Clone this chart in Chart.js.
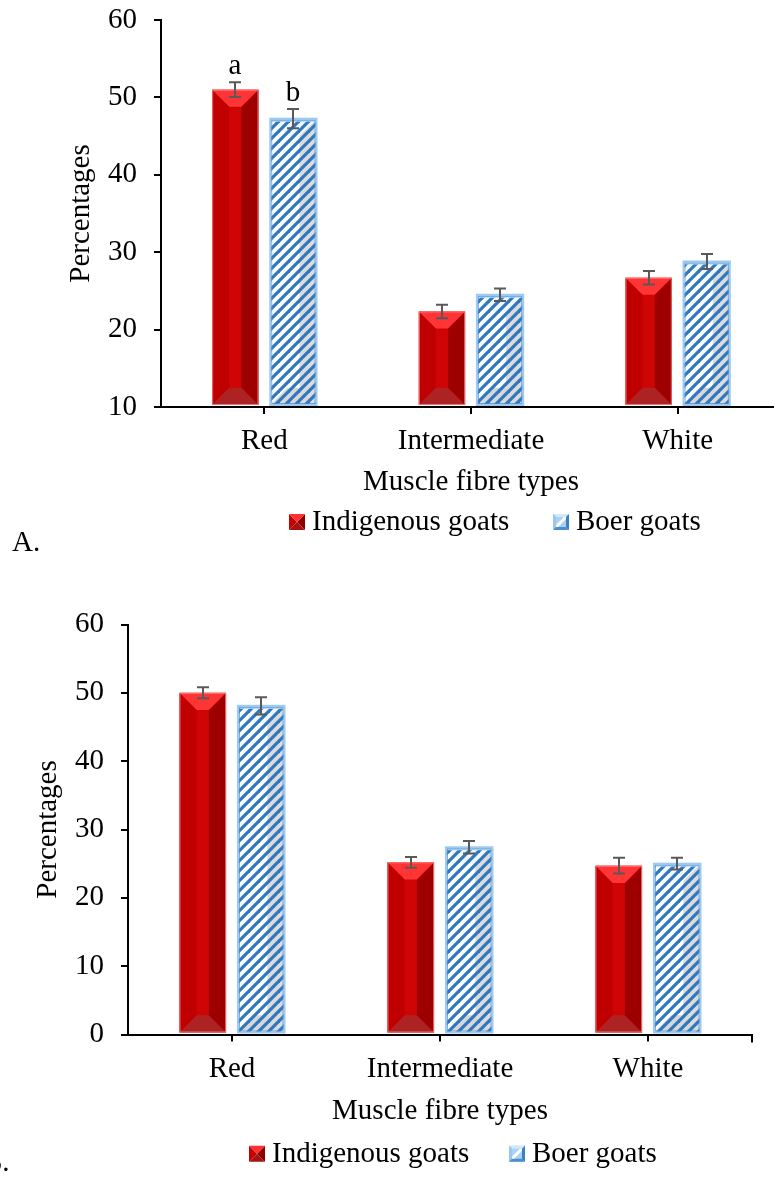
<!DOCTYPE html>
<html>
<head>
<meta charset="utf-8">
<script src="https://cdn.jsdelivr.net/npm/chart.js@4/dist/chart.umd.min.js"></script>
<style>
  html, body { margin: 0; padding: 0; background: #fff; }
  body { width: 774px; height: 1177px; overflow: hidden; position: relative; }
  .panel { position: absolute; left: 0; }
  #panelA { top: 0; width: 790px; height: 560px; }
  #panelB { top: 600px; width: 774px; height: 577px; }
</style>
</head>
<body>
<div class="panel" id="panelA"><canvas id="chartA" width="790" height="560"></canvas></div>
<div class="panel" id="panelB"><canvas id="chartB" width="774" height="577"></canvas></div>
<script>
// ---- data ----
const categories = ['Red', 'Intermediate', 'White'];
const seriesNames = ['Indigenous goats', 'Boer goats'];
const xTitle = 'Muscle fibre types';
const yTitle = 'Percentages';

// panel A
const yTicksA = [10, 20, 30, 40, 50, 60];
const indigenousA = [51.0, 22.35, 26.7];
const indigenousErrA = [0.95, 0.87, 0.86];
const boerA = [47.25, 24.5, 28.8];
const boerErrA = [1.25, 0.8, 0.97];
const indigenousLettersA = ['a', '', ''];
const boerLettersA = ['b', '', ''];

// panel B
const yTicksB = [0, 10, 20, 30, 40, 50, 60];
const indigenousB = [50.0, 25.2, 24.7];
const indigenousErrB = [0.8, 0.78, 1.15];
const boerB = [48.1, 27.4, 25.0];
const boerErrB = [1.27, 0.9, 0.85];

// ---- drawing helpers ----
const SERIF = "'Liberation Serif', 'Times New Roman', Times, serif";
const FONT_SIZE = 29;

const stripeTile = (() => {
  const c = document.createElement('canvas');
  c.width = 10; c.height = 10;
  const g = c.getContext('2d');
  g.strokeStyle = '#2f78bf';
  g.lineWidth = 3.2;
  [[-5, 5, 5, -5], [0, 10, 10, 0], [5, 15, 15, 5]].forEach(([a, b, c2, d]) => {
    g.beginPath(); g.moveTo(a, b); g.lineTo(c2, d); g.stroke();
  });
  return c;
})();

function poly(ctx, pts, fill) {
  ctx.beginPath();
  ctx.moveTo(pts[0][0], pts[0][1]);
  for (let i = 1; i < pts.length; i++) ctx.lineTo(pts[i][0], pts[i][1]);
  ctx.closePath();
  ctx.fillStyle = fill;
  ctx.fill();
}

function bevelFaces(L, T, R, B, d) {
  return {
    top: [[L, T], [R, T], [R - d, T + d], [L + d, T + d]],
    left: [[L, T], [L + d, T + d], [L + d, B - d], [L, B]],
    right: [[R, T], [R, B], [R - d, B - d], [R - d, T + d]],
    bottom: [[L, B], [R, B], [R - d, B - d], [L + d, B - d]]
  };
}

function drawSolidBar(ctx, L, T, R, B) {
  const w = R - L, h = B - T;
  const d = Math.min(w * 0.37, h / 2);
  const f = bevelFaces(L, T, R, B, d);
  ctx.fillStyle = '#cf0505';
  ctx.fillRect(L, T, w, h);
  poly(ctx, f.left, '#c00000');
  poly(ctx, f.right, '#9e0000');
  poly(ctx, f.bottom, '#ad2323');
  poly(ctx, f.top, '#ff3434');
  ctx.strokeStyle = 'rgba(255,140,140,0.75)';
  ctx.lineWidth = 1;
  ctx.strokeRect(L + 0.5, T + 0.5, w - 1, h - 1);
}

function drawHatchBar(ctx, L, T, R, B, pattern) {
  const w = R - L, h = B - T;
  const d = Math.min(w * 0.37, h / 2);
  const f = bevelFaces(L, T, R, B, d);
  ctx.fillStyle = '#ffffff';
  ctx.fillRect(L, T, w, h);
  poly(ctx, f.right, '#dcdcdc');
  poly(ctx, f.bottom, '#d8d8d8');
  poly(ctx, f.top, '#f2f8fd');
  ctx.fillStyle = pattern;
  ctx.fillRect(L, T, w, h);
  ctx.fillStyle = '#b3d8f7';
  ctx.fillRect(L, T, w, 3);
  ctx.strokeStyle = 'rgba(80,140,205,0.75)';
  ctx.lineWidth = 1;
  ctx.strokeRect(L + 1.5, T + 1.5, w - 3, h - 3);
  ctx.strokeStyle = '#9dcaf2';
  ctx.lineWidth = 2;
  ctx.strokeRect(L, T, w, h);
}

function drawSolidIcon(ctx, x, y, s) {
  const f = bevelFaces(x, y, x + s, y + s, s / 2);
  poly(ctx, f.left, '#c60000');
  poly(ctx, f.right, '#8e0000');
  poly(ctx, f.bottom, '#a51212');
  poly(ctx, f.top, '#ff3030');
}

function drawHatchIcon(ctx, x, y, s) {
  const f = bevelFaces(x, y, x + s, y + s, 3);
  ctx.fillStyle = '#a7d2f5';
  ctx.fillRect(x, y, s, s);
  poly(ctx, f.top, '#cfe8fc');
  poly(ctx, f.left, '#9bc7ef');
  poly(ctx, f.right, '#3f7ec0');
  poly(ctx, f.bottom, '#4c8ccf');
  ctx.save();
  ctx.beginPath();
  ctx.rect(x + 3, y + 3, s - 6, s - 6);
  ctx.clip();
  ctx.strokeStyle = '#ffffff';
  ctx.lineWidth = 3;
  ctx.beginPath();
  ctx.moveTo(x + 2, y + s - 2);
  ctx.lineTo(x + s - 2, y + 2);
  ctx.stroke();
  ctx.restore();
}

// bars, error bars, significance letters, legend and panel tag
const figurePlugin = {
  id: 'figureMarks',
  afterDatasetsDraw(chart, args, opts) {
    const ctx = chart.ctx;
    const yScale = chart.scales.y;
    const xScale = chart.scales.x;
    const pattern = ctx.createPattern(stripeTile, 'repeat');
    ctx.save();
    chart.data.datasets.forEach((ds, di) => {
      const meta = chart.getDatasetMeta(di);
      meta.data.forEach((el, i) => {
        const p = el.getProps(['x', 'y', 'base', 'width'], true);
        const L = p.x - p.width / 2, R = p.x + p.width / 2, B = p.base - 1;
        if (ds.look === 'solid') drawSolidBar(ctx, L, p.y, R, B);
        else drawHatchBar(ctx, L, p.y, R, B, pattern);
      });
    });
    // error bars
    ctx.strokeStyle = '#595959';
    ctx.lineWidth = 2;
    chart.data.datasets.forEach((ds, di) => {
      const meta = chart.getDatasetMeta(di);
      meta.data.forEach((el, i) => {
        const v = ds.data[i], e = ds.errors[i];
        const yHi = yScale.getPixelForValue(v + e);
        const yLo = yScale.getPixelForValue(v - e);
        const x = Math.round(el.x);
        ctx.beginPath();
        ctx.moveTo(x, yHi); ctx.lineTo(x, yLo);
        ctx.moveTo(x - 6, yHi); ctx.lineTo(x + 6, yHi);
        ctx.moveTo(x - 6, yLo); ctx.lineTo(x + 6, yLo);
        ctx.stroke();
        const letter = ds.letters && ds.letters[i];
        if (letter) {
          ctx.fillStyle = '#000';
          ctx.font = FONT_SIZE + 'px ' + SERIF;
          ctx.textAlign = 'center';
          ctx.textBaseline = 'alphabetic';
          ctx.fillText(letter, x, yHi - 8);
        }
      });
    });
    // closing tick at the right end of the category axis
    ctx.strokeStyle = '#000';
    ctx.lineWidth = 2;
    ctx.beginPath();
    ctx.moveTo(xScale.right, xScale.top);
    ctx.lineTo(xScale.right, xScale.top + 8);
    ctx.stroke();
    ctx.restore();
  },
  afterDraw(chart, args, opts) {
    const ctx = chart.ctx;
    ctx.save();
    ctx.font = FONT_SIZE + 'px ' + SERIF;
    ctx.fillStyle = '#000';
    ctx.textAlign = 'left';
    ctx.textBaseline = 'alphabetic';
    const s = opts.iconSize;
    chart.data.datasets.forEach((ds, di) => {
      const ix = opts.legendX[di];
      const iy = opts.legendBaseline - s;
      if (ds.look === 'solid') drawSolidIcon(ctx, ix, iy, s);
      else drawHatchIcon(ctx, ix, iy, s);
      ctx.fillStyle = '#000';
      ctx.fillText(ds.label, ix + s + 7, opts.legendBaseline);
    });
    ctx.fillText(opts.tag, opts.tagX, opts.tagBaseline);
    ctx.restore();
  }
};

function buildChart(canvasId, cfg) {
  const font = { family: SERIF, size: FONT_SIZE };
  const yMin = cfg.yTicks[0];
  return new Chart(document.getElementById(canvasId), {
    type: 'bar',
    data: {
      labels: categories,
      datasets: [
        { label: seriesNames[0], data: cfg.indigenous, errors: cfg.indigenousErr, letters: cfg.indigenousLetters,
          look: 'solid', base: yMin, backgroundColor: 'rgba(0,0,0,0)', borderWidth: 0 },
        { label: seriesNames[1], data: cfg.boer, errors: cfg.boerErr, letters: cfg.boerLetters,
          look: 'hatch', base: yMin, backgroundColor: 'rgba(0,0,0,0)', borderWidth: 0 }
      ]
    },
    options: {
      responsive: false,
      animation: false,
      events: [],
      categoryPercentage: 0.562,
      barPercentage: 0.797,
      layout: { padding: cfg.padding },
      scales: {
        x: {
          grid: { display: true, drawOnChartArea: false, drawTicks: true, tickLength: 7,
                  tickColor: '#000', tickWidth: 2, offset: false, color: '#000', lineWidth: 2 },
          border: { display: true, color: '#000', width: 2 },
          ticks: { color: '#000', font, padding: 10, maxRotation: 0, autoSkip: false },
          title: { display: true, text: xTitle, color: '#000', font, padding: { top: 0, bottom: 0 } },
          afterFit: (s) => { s.height = cfg.xHeight; }
        },
        y: {
          min: yMin,
          max: cfg.yTicks[cfg.yTicks.length - 1],
          afterBuildTicks: (s) => { s.ticks = cfg.yTicks.map(v => ({ value: v })); },
          grid: { display: true, drawOnChartArea: false, drawTicks: true, tickLength: 7,
                  tickColor: '#000', tickWidth: 2, color: '#000', lineWidth: 2 },
          border: { display: true, color: '#000', width: 2 },
          ticks: { color: '#000', font, padding: 17 },
          title: { display: true, text: yTitle, color: '#000', font, padding: { top: 0, bottom: 0 } },
          afterFit: (s) => { s.width = cfg.yWidth; s.paddingTop = 0; s.paddingBottom = 0; }
        }
      },
      plugins: {
        legend: { display: false },
        tooltip: { enabled: false },
        figureMarks: cfg.marks
      }
    },
    plugins: [figurePlugin]
  });
}

buildChart('chartA', {
  indigenous: indigenousA, indigenousErr: indigenousErrA, indigenousLetters: indigenousLettersA,
  boer: boerA, boerErr: boerErrA, boerLetters: boerLettersA,
  yTicks: yTicksA,
  padding: { left: 64, right: 9, top: 20, bottom: 60 },
  yWidth: 97, xHeight: 93,
  marks: { legendX: [289, 553], legendBaseline: 530, iconSize: 16, tag: 'A.', tagX: 12, tagBaseline: 551 }
});

buildChart('chartB', {
  indigenous: indigenousB, indigenousErr: indigenousErrB, indigenousLetters: null,
  boer: boerB, boerErr: boerErrB, boerLetters: null,
  yTicks: yTicksB,
  padding: { left: 31, right: 22, top: 24.5, bottom: 48.5 },
  yWidth: 97, xHeight: 94,
  marks: { legendX: [249, 509], legendBaseline: 561.7, iconSize: 16, tag: 'B.', tagX: -17, tagBaseline: 571 }
});
</script>
</body>
</html>
